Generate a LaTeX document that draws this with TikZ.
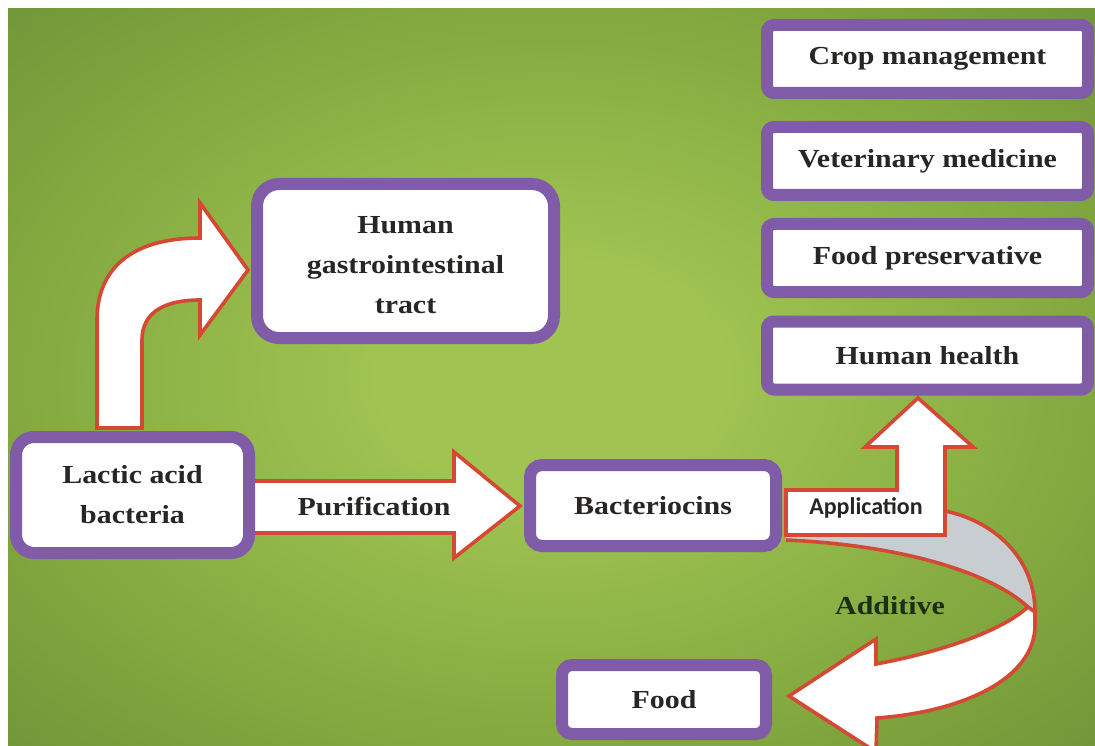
\documentclass[tikz,border=0pt]{standalone}
\usepackage{fontspec}
\setmainfont{Liberation Serif}[FakeStretch=1.15]
\newfontfamily\appfont{Carlito}
\definecolor{bgin}{RGB}{160,195,82}
\definecolor{bgmid}{RGB}{132,170,64}
\definecolor{bgout}{RGB}{106,143,54}
\definecolor{purp}{RGB}{128,92,168}
\definecolor{redl}{RGB}{212,72,52}
\definecolor{txt}{RGB}{40,38,36}
\definecolor{addtxt}{RGB}{30,45,22}
\definecolor{backgrey}{RGB}{200,205,210}
\pgfdeclareradialshading{greenbg}{\pgfpoint{0bp}{0bp}}{color(0bp)=(bgin); color(8bp)=(bgin); color(24bp)=(bgmid); color(40bp)=(bgout); color(100bp)=(bgout)}
\tikzset{
  box/.style={draw=purp, line width=12pt, fill=white, inner sep=0pt, outer sep=0pt,
    align=center, text=txt, font=\fontsize{26}{40}\selectfont\bfseries},
  fat/.style={draw=redl, line width=3.6pt, fill=white, line join=miter},
  redline/.style={draw=redl, line width=3.6pt},
  lbl/.style={font=\fontsize{26}{26}\selectfont\bfseries, text=txt},
}
\begin{document}
\begin{tikzpicture}[x=1pt,y=-1pt]
\useasboundingbox (0,0) rectangle (1095,746);
\fill[white] (0,0) rectangle (1095,746);
\shade[shading=greenbg] (8,9) rectangle (1095,746);

% connectors (block arrows)
\draw[fat] (97,428) -- (97,320) .. controls (97,270) and (130,238) .. (200,238)
  -- (200,203) -- (248,270) -- (200,335) -- (200,300)
  .. controls (165,300) and (142,312) .. (142,340) -- (142,428) -- cycle;
\draw[fat] (252,481) -- (454,481) -- (454,452) -- (520,506) -- (454,558) -- (454,533) -- (252,533) -- cycle;

% additive arrow, back face
\fill[backgrey] (786,512) -- (945,511) .. controls (990,520) and (1035,555) .. (1035,612)
  -- (1028,607) .. controls (990,572) and (900,545) .. (786,540) -- cycle;
\draw[redline] (945,511) .. controls (990,520) and (1035,555) .. (1035,612);
\draw[redline] (786,540) .. controls (900,545) and (990,572) .. (1028,607);

% application arrow
\draw[fat] (786,490) -- (897,490) -- (897,447) -- (865,447) -- (918,398) -- (973,447)
  -- (945,447) -- (945,535) -- (786,535) -- cycle;
\node[font=\appfont\fontsize{24}{24}\selectfont\bfseries, text=txt] (app) at (866,508) {Application};

% additive arrow, front face
\draw[fat] (1028,607) .. controls (1000,632) and (940,652) .. (876,664)
  -- (876,639) -- (789,696) -- (876,752) -- (877,718)
  .. controls (960,712) and (1035,680) .. (1035,625) -- (1035,612) -- cycle;
\node[lbl, text=addtxt] (add) at (890,606) {Additive};

% boxes
\node[box, rounded corners=7pt, minimum width=321pt, minimum height=68pt] (crop) at (927.5,59) {Crop management};
\node[box, rounded corners=7pt, minimum width=321pt, minimum height=68pt] (vet) at (927.5,161) {Veterinary medicine};
\node[box, rounded corners=7pt, minimum width=321pt, minimum height=68pt] (pres) at (927.5,258) {Food preservative};
\node[box, rounded corners=7pt, minimum width=321pt, minimum height=68pt] (health) at (927.5,355.5) {Human health};
\node[box, rounded corners=22pt, minimum width=297pt, minimum height=154pt] (gi) at (405.5,261) {\rule{0pt}{25pt}Human\\gastrointestinal\\tract};
\node[box, rounded corners=18pt, minimum width=233pt, minimum height=116pt] (lab) at (132.5,495) {Lactic acid\\bacteria};
\node[box, rounded corners=12pt, minimum width=246pt, minimum height=81pt] (bac) at (653,505.5) {Bacteriocins};
\node[box, rounded corners=10pt, minimum width=204pt, minimum height=69pt] (food) at (664,699.5) {Food};

\node[lbl] (pur) at (374,507) {Purification};
\end{tikzpicture}
\end{document}
